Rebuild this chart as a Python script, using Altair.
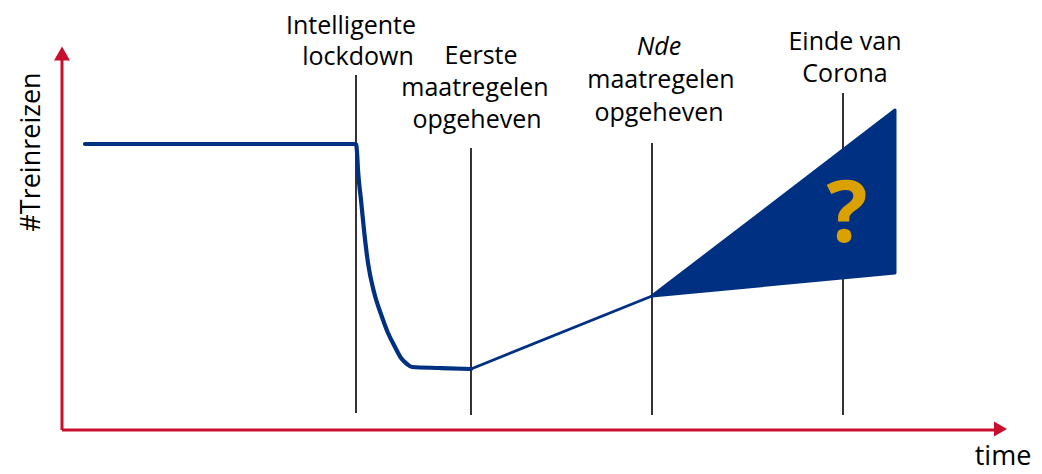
import altair as alt
import pandas as pd

# ---- data (time units, level units) ----
curve_t = [77, 348, 349, 350, 353, 356, 360, 366, 374, 380, 387, 393, 399, 404, 432, 463]
curve_lvl = [322, 322, 314, 296, 266, 236, 203, 174, 149, 133, 119, 108, 102, 99, 98, 97]

recovery_t = [463, 644]
recovery_lvl = [97, 170]

cone_t = [644, 887]
cone_upper = [170, 356]
cone_lower = [170, 193]

event_t = [348, 463, 644, 835]
event_top = [391, 318, 323, 373]
event_bottom = [53, 51, 51, 51]

label_text = ["Intelligente", "lockdown", "Eerste", "maatregelen", "opgeheven",
              "Nde", "maatregelen", "opgeheven", "Einde van", "Corona"]
label_t = [343, 350, 473, 467, 469, 651, 653, 651, 837, 837]
label_lvl = [432, 401, 402, 370, 338, 411, 378, 345, 416, 384]
label_italic = [False, False, False, False, False, True, False, False, False, False]

axis_origin_t = 54
axis_origin_lvl = 36
axis_x_end = 990
axis_y_end = 408

W, H = 1026, 458
RED = "#C8102E"
BLUE = "#003082"
GOLD = "#DBA100"
FONT = "Open Sans"

xs = alt.Scale(domain=[0, W], nice=False, zero=False)
ys = alt.Scale(domain=[0, H], nice=False, zero=False)
X = lambda f: alt.X(f, type="quantitative", scale=xs, axis=None)
Y = lambda f: alt.Y(f, type="quantitative", scale=ys, axis=None)

curve_df = pd.DataFrame({"t": curve_t, "lvl": curve_lvl, "o": range(len(curve_t))})
rec_df = pd.DataFrame({"t": recovery_t, "lvl": recovery_lvl})
cone_df = pd.DataFrame({"t": cone_t, "up": cone_upper, "lo": cone_lower})
ev_df = pd.DataFrame({"t": event_t, "top": event_top, "bot": event_bottom})
lab_df = pd.DataFrame({"text": label_text, "t": label_t, "lvl": label_lvl, "it": label_italic})

axes_df = pd.DataFrame({
    "t": [axis_origin_t, axis_origin_t],
    "lvl": [axis_origin_lvl, axis_origin_lvl],
    "t2": [axis_x_end, axis_origin_t],
    "lvl2": [axis_origin_lvl, axis_y_end],
})
arrow_up_df = pd.DataFrame({"t": [axis_origin_t], "lvl": [412.5]})
arrow_right_df = pd.DataFrame({"t": [992.5], "lvl": [37]})

axes = alt.Chart(axes_df).mark_rule(color=RED, strokeWidth=3).encode(
    x=X("t"), y=Y("lvl"), x2="t2", y2="lvl2")
arrow_up = alt.Chart(arrow_up_df).mark_point(
    shape="triangle-up", size=256, filled=True, color=RED, opacity=1, strokeWidth=0
).encode(x=X("t"), y=Y("lvl"))
arrow_right = alt.Chart(arrow_right_df).mark_point(
    shape="triangle-right", size=225, filled=True, color=RED, opacity=1, strokeWidth=0
).encode(x=X("t"), y=Y("lvl"))

events = alt.Chart(ev_df).mark_rule(color="black", strokeWidth=1.6).encode(
    x=X("t"), y=Y("top"), y2="bot")

curve = alt.Chart(curve_df).mark_line(color=BLUE, strokeWidth=4.2, strokeJoin="round",
                                      strokeCap="round", interpolate="monotone").encode(
    x=X("t"), y=Y("lvl"), order="o")
recovery = alt.Chart(rec_df).mark_line(color=BLUE, strokeWidth=2.8).encode(
    x=X("t"), y=Y("lvl"))
cone = alt.Chart(cone_df).mark_area(color=BLUE, opacity=1, stroke=BLUE, strokeWidth=3,
                                    strokeJoin="round").encode(
    x=X("t"), y=Y("up"), y2="lo")

qmark = alt.Chart(pd.DataFrame({"t": [839], "lvl": [224], "s": ["?"]})).mark_text(
    font=FONT, fontSize=86, fontWeight="bold", color=GOLD, align="center", baseline="alphabetic"
).encode(x=X("t"), y=Y("lvl"), text="s")

labels = alt.Chart(lab_df).transform_filter("!datum.it").mark_text(
    font=FONT, fontSize=25, color="black", align="center", baseline="alphabetic"
).encode(x=X("t"), y=Y("lvl"), text="text")
labels_it = alt.Chart(lab_df).transform_filter("datum.it").mark_text(
    font=FONT, fontSize=25, fontStyle="italic", color="black", align="center", baseline="alphabetic"
).encode(x=X("t"), y=Y("lvl"), text="text")

time_lab = alt.Chart(pd.DataFrame({"t": [995], "lvl": [1], "s": ["time"]})).mark_text(
    font=FONT, fontSize=27, color="black", align="center", baseline="alphabetic"
).encode(x=X("t"), y=Y("lvl"), text="s")
y_lab = alt.Chart(pd.DataFrame({"t": [32], "lvl": [314], "s": ["#Treinreizen"]})).mark_text(
    font=FONT, fontSize=27, color="black", align="center", baseline="alphabetic", angle=270
).encode(x=X("t"), y=Y("lvl"), text="s")

chart = alt.layer(
    axes, arrow_up, arrow_right, events, curve, recovery, cone, qmark,
    labels, labels_it, time_lab, y_lab
).properties(
    width=W, height=H, autosize=alt.AutoSizeParams(type="none"), padding=0
).configure_view(stroke=None)

chart.save("out.html", embed_options={"renderer": "svg", "actions": False})
